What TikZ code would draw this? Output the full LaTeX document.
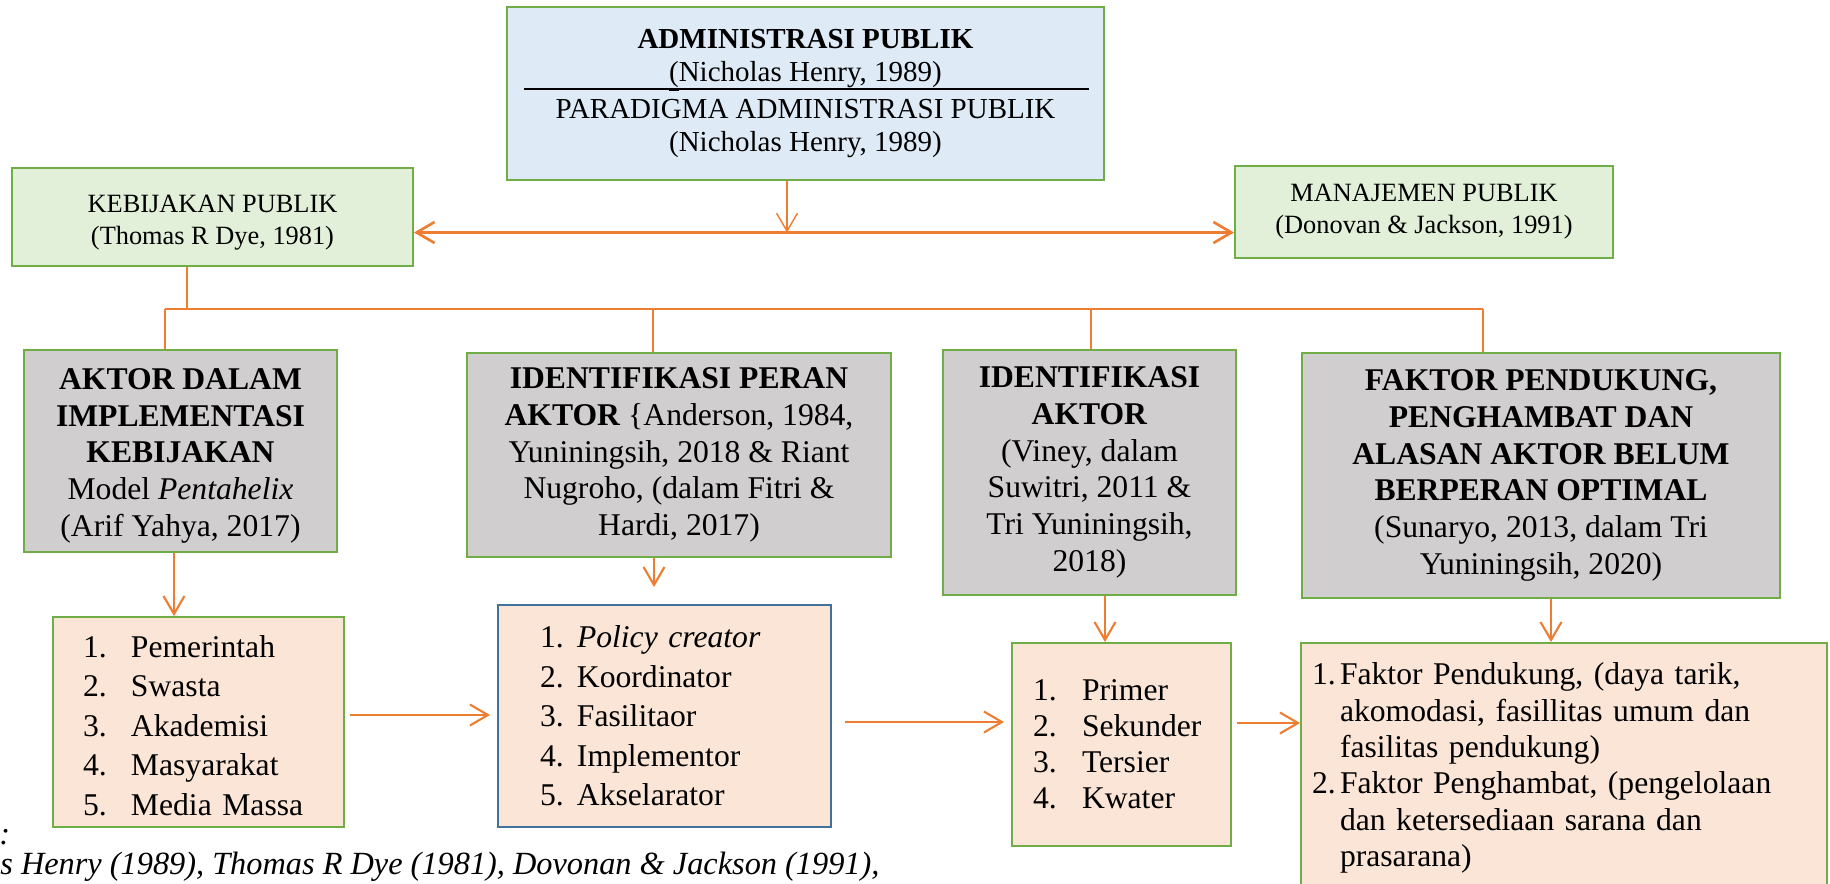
\documentclass[tikz,border=0pt]{standalone}
\usepackage{fontspec}
\setmainfont{Liberation Serif}
\usepackage{tikz}
\usepackage{xcolor}
\usetikzlibrary{arrows.meta}

\definecolor{boxgreen}{HTML}{70AD47}
\definecolor{boxblue}{HTML}{41719C}
\definecolor{linkorange}{HTML}{ED7D31}
\definecolor{fillblue}{HTML}{DEEBF7}
\definecolor{fillgreen}{HTML}{E2F0D9}
\definecolor{fillgray}{HTML}{D0CECE}
\definecolor{fillpeach}{HTML}{FBE5D6}

\newcommand{\itm}[3][0.96cm]{\makebox[#1][l]{#2}#3}

\begin{document}
\begin{tikzpicture}[
    box/.style={draw=boxgreen, line width=1.1pt, rectangle, inner sep=0pt, align=center},
    topbox/.style={box, fill=fillblue, font={\fontsize{16.5}{18.8}\selectfont}},
    fieldbox/.style={box, fill=fillgreen, font={\fontsize{15}{18.2}\selectfont}},
    greybox/.style={box, fill=fillgray, font={\fontsize{18}{20.9}\selectfont}},
    listbox/.style={box, fill=fillpeach, align=left, font={\fontsize{18}{22.5}\selectfont}},
    arrow/.style={-{Straight Barb[length=0.36cm, width=0.42cm]}, draw=linkorange, line width=1.2pt},
    branch/.style={draw=linkorange, line width=0.8pt}
]
\useasboundingbox (0,0) rectangle (36.6,-17.66);

% Top level
\node[topbox, minimum width=11.94cm, minimum height=3.46cm] (adm) at (16.11,-1.87)
    {\textbf{ADMINISTRASI PUBLIK}\\ \underline{(}Nicholas Henry, 1989)\\[2.5pt] PARADIGMA ADMINISTRASI PUBLIK\\ (Nicholas Henry, 1989)};
\draw[line width=1pt] ([shift={(0.36,-1.66)}]adm.north west) -- ([shift={(-0.32,-1.66)}]adm.north east);

\node[fieldbox, minimum width=8.02cm, minimum height=1.96cm] (kebijakan) at (4.25,-4.34)
    {\rule{0pt}{16.7pt}KEBIJAKAN PUBLIK\\ (Thomas R Dye, 1981)};
\node[fieldbox, minimum width=7.56cm, minimum height=1.84cm] (manajemen) at (28.48,-4.24)
    {MANAJEMEN PUBLIK\\ (Donovan \& Jackson, 1991)};

\coordinate (hub) at (15.74,-4.65);
\coordinate (busL) at (3.30,-6.18);
\coordinate (busR) at (29.66,-6.18);

% Theory boxes
\node[greybox, minimum width=6.26cm, minimum height=4.04cm] (aktor) at (3.61,-9.02)
    {\rule{0pt}{17.5pt}\textbf{AKTOR DALAM}\\ \textbf{IMPLEMENTASI}\\ \textbf{KEBIJAKAN}\\ Model \textit{Pentahelix}\\ (Arif Yahya, 2017)};
\node[greybox, minimum width=8.48cm, minimum height=4.08cm] (peran) at (13.58,-9.10)
    {\textbf{IDENTIFIKASI PERAN}\\ \textbf{AKTOR} \{Anderson, 1984,\\ Yuniningsih, 2018 \& Riant\\ Nugroho, (dalam Fitri \&\\ Hardi, 2017)};
\node[greybox, minimum width=5.86cm, minimum height=4.90cm] (identifikasi) at (21.79,-9.45)
    {\textbf{IDENTIFIKASI}\\ \textbf{AKTOR}\\ (Viney, dalam\\ Suwitri, 2011 \&\\ Tri Yuniningsih,\\ 2018)};
\node[greybox, minimum width=9.56cm, minimum height=4.90cm] (faktor) at (30.82,-9.51)
    {\textbf{FAKTOR PENDUKUNG,}\\ \textbf{PENGHAMBAT DAN}\\ \textbf{ALASAN AKTOR BELUM}\\ \textbf{BERPERAN OPTIMAL}\\ (Sunaryo, 2013, dalam Tri\\ Yuniningsih, 2020)};

% Lists
\node[listbox, minimum width=5.82cm, minimum height=4.20cm, text width=4.62cm, inner xsep=0.6cm] (pentahelix) at (3.97,-14.44)
    {\rule{0pt}{16.5pt}\itm{1.}{Pemerintah}\\ \itm{2.}{Swasta}\\ \itm{3.}{Akademisi}\\ \itm{4.}{Masyarakat}\\ \itm{5.}{Media Massa}};
\node[listbox, draw=boxblue, minimum width=6.66cm, minimum height=4.44cm, text width=4.98cm, inner xsep=0.84cm] (peranlist) at (13.29,-14.32)
    {\itm[0.74cm]{1.}{\textit{Policy creator}}\\ \itm[0.74cm]{2.}{Koordinator}\\ \itm[0.74cm]{3.}{Fasilitaor}\\ \itm[0.74cm]{4.}{Implementor}\\ \itm[0.74cm]{5.}{Akselarator}};
\node[listbox, font={\fontsize{18}{20.5}\selectfont}, minimum width=4.38cm, minimum height=4.06cm, text width=3.54cm, inner xsep=0.42cm] (jenis) at (22.43,-14.89)
    {\itm[0.98cm]{1.}{Primer}\\ \itm[0.98cm]{2.}{Sekunder}\\ \itm[0.98cm]{3.}{Tersier}\\ \itm[0.98cm]{4.}{Kwater}};
\node[listbox, font={\fontsize{18}{20.7}\selectfont}, minimum width=10.52cm, minimum height=5.0cm, text width=10.08cm, inner xsep=0.22cm] (faktorlist) at (31.28,-15.36)
    {\itm[0.56cm]{1.}{Faktor Pendukung, (daya tarik,}\\ \itm[0.56cm]{}{akomodasi, fasillitas umum dan}\\ \itm[0.56cm]{}{fasilitas pendukung)}\\
     \itm[0.56cm]{2.}{Faktor Penghambat, (pengelolaan}\\ \itm[0.56cm]{}{dan ketersediaan sarana dan}\\ \itm[0.56cm]{}{prasarana)}};

% Connectors
\draw[arrow, line width=0.8pt] (adm.south -| hub) -- (hub);
\draw[arrow, {Straight Barb[length=0.36cm, width=0.42cm]}-{Straight Barb[length=0.36cm, width=0.42cm]}, line width=1.5pt] (kebijakan.east |- hub) -- (manajemen.west |- hub);
\draw[branch] ([xshift=-0.51cm]kebijakan.south) -- ([xshift=-0.51cm]kebijakan.south |- busL);
\draw[branch] (busL) -- (busR);
\draw[branch] (busL) -- (busL |- aktor.north);
\draw[branch] ([xshift=-0.52cm]peran.north |- busL) -- ([xshift=-0.52cm]peran.north);
\draw[branch] ([xshift=0.03cm]identifikasi.north |- busL) -- ([xshift=0.03cm]identifikasi.north);
\draw[branch] (busR) -- (busR |- faktor.north);

\draw[arrow] ([xshift=-0.13cm]aktor.south) -- ([xshift=-0.13cm]aktor.south |- pentahelix.north);
\draw[arrow, shorten >=0.34cm] ([xshift=-0.5cm]peran.south) -- ([xshift=-0.5cm]peran.south |- peranlist.north);
\draw[arrow] ([xshift=0.31cm]identifikasi.south) -- ([xshift=0.31cm]identifikasi.south |- jenis.north);
\draw[arrow] ([xshift=0.2cm]faktor.south) -- ([xshift=0.2cm]faktor.south |- faktorlist.north);

\draw[arrow, shorten <=0.1cm, shorten >=0.14cm] ([yshift=0.14cm]pentahelix.east) -- ([yshift=0.14cm]pentahelix.east -| peranlist.west);
\draw[arrow, shorten <=0.26cm, shorten >=0.14cm] ([yshift=-0.12cm]peranlist.east) -- ([yshift=-0.12cm]peranlist.east -| jenis.west);
\draw[arrow, shorten <=0.1cm] ([yshift=0.43cm]jenis.east) -- ([yshift=0.43cm]jenis.east -| faktorlist.west);

% Source note
\node[anchor=west, inner sep=0pt, font={\fontsize{18.4}{21}\selectfont}] (ketcolon) at (-0.02,-16.74) {\textit{:}};
\node[anchor=west, inner sep=0pt, font={\fontsize{18.4}{21}\selectfont}] (sumber) at (0,-17.34)
    {\textit{s Henry (1989), Thomas R Dye (1981), Dovonan \& Jackson (1991),}};

\end{tikzpicture}
\end{document}
